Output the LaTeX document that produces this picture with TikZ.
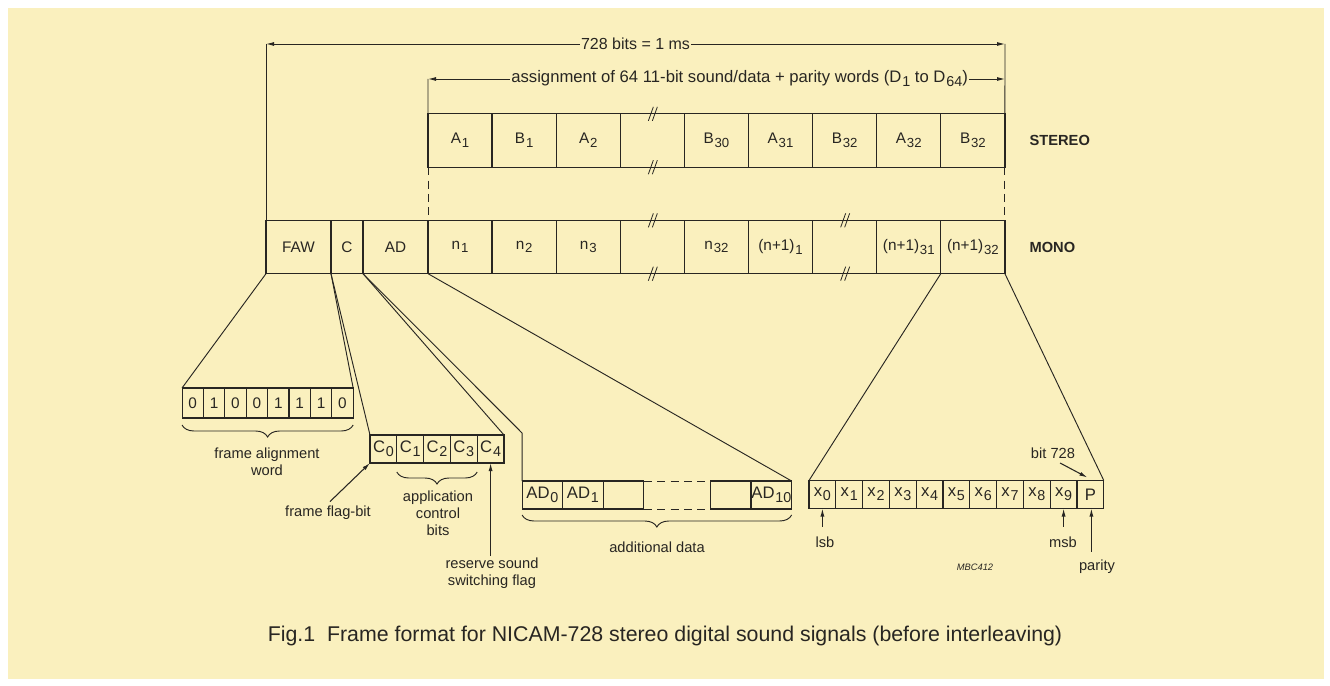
\documentclass[tikz,border=0pt]{standalone}
\usepackage{fontspec}
\setmainfont{Liberation Sans}
\usetikzlibrary{arrows.meta,calc,decorations.pathreplacing}
\definecolor{paper}{RGB}{250,240,190}
\definecolor{ink}{RGB}{40,38,34}
\newcommand{\idx}[1]{\kern0.6pt\raisebox{-0.45ex}{\scalebox{0.86}{#1}}}

\begin{document}
\begin{tikzpicture}[x=0.75pt, y=-0.75pt,
      word/.style={draw=ink, line width=0.9pt, minimum width=48.1pt, minimum height=40pt,
                   inner sep=0pt, outer sep=0pt, text=ink, font=\fontsize{11.5}{12}\selectfont},
      bit/.style={draw=ink, line width=0.8pt, minimum width=20.1pt, minimum height=21pt,
                  inner sep=0pt, outer sep=0pt, text=ink, font=\fontsize{12.5}{13}\selectfont},
      lbl/.style={text=ink, font=\fontsize{11}{12.75}\selectfont, align=center, inner sep=1pt},
      fan/.style={draw=ink, line width=0.7pt},
      dashline/.style={draw=ink, line width=0.7pt, dash pattern=on 6pt off 4pt},
      dim/.style={draw=ink, line width=0.7pt, {Latex[length=6pt,width=3pt]}-{Latex[length=6pt,width=3pt]}},
      tick/.style={draw=ink, line width=0.8pt, -{Latex[length=6pt,width=3pt]}},
      brace/.style={draw=ink, line width=0.7pt, decorate, decoration={brace, mirror, amplitude=9pt}},
      brk/.pic={\draw[ink, line width=0.6pt] (-4,7) -- (1,-7) (0,7) -- (5,-7);}
    ]
      \useasboundingbox (0,0) rectangle (1330,685);
      \fill[white] (0,0) rectangle (1330,685);
      \fill[paper] (8,8) rectangle (1324,679);

      % Stereo
      \foreach \lab [count=\i] in {A\idx{1}, B\idx{1}, A\idx{2}, {}, B\idx{30}, A\idx{31}, B\idx{32}, A\idx{32}, B\idx{32}}
        \node[word] (s\i) at ({428+64.1*(\i-0.5)},140.5) {\lab};
      \node[lbl, anchor=west, font=\fontsize{11}{12}\selectfont\bfseries] (stereo) at (1028,140.5) {STEREO};

      % Mono
      \node[word, minimum width=48.75pt] (faw) at (298.5,247) {FAW};
      \node[word, minimum width=24pt] (c) at (347,247) {C};
      \node[word, minimum width=48.75pt] (ad) at (395.5,247) {AD};
      \foreach \lab [count=\i] in {n\idx{1}, n\idx{2}, n\idx{3}, {}, n\idx{32}, (n+1)\idx{1}, {}, (n+1)\idx{31}, (n+1)\idx{32}}
        \node[word] (m\i) at ({428+64.1*(\i-0.5)},247) {\lab};
      \node[lbl, anchor=west, font=\fontsize{11}{12}\selectfont\bfseries] (mono) at (1028,247) {MONO};

      % Breaks
      \foreach \p in {s4.north, s4.south, m4.north, m4.south, m7.north, m7.south}
        \pic at (\p) {brk};

      % Dimensions
      \coordinate (t1) at (266,44);
      \coordinate (t2) at (1005,44);
      \coordinate (u1) at (428,79);
      \coordinate (u2) at (1005,79);
      \draw[dim] (t1) -- node[lbl, fill=paper, font=\fontsize{12}{13}\selectfont] {728 bits = 1 ms} (t2);
      \draw[dim] (u1) -- node[lbl, fill=paper, pos=0.54, font=\fontsize{12.5}{13}\selectfont] {assignment of 64 11-bit sound/data + parity words (D\idx{1} to D\idx{64})} (u2);
      \draw[fan] (t1) -- (faw.north west);
      \draw[fan] (t2) -- (s9.north east);
      \draw[fan] (u1) -- (s1.north west);
      \draw[dashline] (s1.south west) -- (m1.north west);
      \draw[dashline] (s9.south east) -- (m9.north east);

      % Frame alignment word
      \foreach \b [count=\i] in {0,1,0,0,1,1,1,0}
        \node[bit, minimum width=16pt, minimum height=22.5pt, font=\fontsize{11.5}{12}\selectfont] (f\i) at ({182+21.4*(\i-0.5)},403) {\b};
      \draw[brace] ($(f1.south west)+(0,7)$) -- ($(f8.south east)+(0,7)$);
      \node[lbl] (fawlbl) at (267,462) {frame alignment\\word};

      % Control bits
      \foreach \i in {0,...,4}
        \node[bit] (c\i) at ({370+26.8*(\i+0.5)},449) {C\idx{\i}};
      \draw[brace] ($(c1.south west)+(0,9)$) -- ($(c3.south east)+(0,9)$);
      \node[lbl] (acb) at (438,513) {application\\control\\bits};
      \node[lbl] (flg) at (328,513) {frame flag-bit};
      \node[lbl] (rsv) at (492,573) {reserve sound\\switching flag};
      \draw[tick] ($(flg.north)+(2,-3)$) -- (c0.south west);
      \draw[tick] (c4.south |- rsv.north) -- (c4.south);

      % Additional data
      \node[bit, minimum width=30.4pt] (ad0) at (542.35,495) {AD\idx{0}};
      \node[bit, minimum width=30.4pt] (ad1) at (582.85,495) {AD\idx{1}};
      \node[bit, minimum width=30.4pt] (ade1) at (623.5,495) {};
      \node[minimum width=49.5pt, minimum height=21pt, inner sep=0pt, outer sep=0pt] (adg) at (677,495) {};
      \node[bit, minimum width=30.4pt] (ade2) at (730.35,495) {};
      \node[bit, minimum width=30.4pt] (ad10) at (771.35,495) {AD\idx{10}};
      \draw[dashline] (adg.north west) -- (adg.north east);
      \draw[dashline] (adg.south west) -- (adg.south east);
      \draw[brace] ($(ad0.south west)+(0,6)$) -- ($(ad10.south east)+(0,6)$);
      \node[lbl] (adlbl) at (657,547) {additional data};

      % Sound word
      \foreach \i in {0,...,9}
        \node[bit] (x\i) at ({809+26.8*(\i+0.5)},494.5) {x\idx{\i}};
      \node[bit] (par) at ({809+26.8*10.5},494.5) {P};
      \node[lbl] (lsb) at (825,542) {lsb};
      \node[lbl] (msb) at (1063,542) {msb};
      \node[lbl] (parity) at (1097,567) {parity};
      \node[lbl] (b728) at (1053,453) {bit 728};
      \draw[tick] ($(x0.south)+(0,18)$) -- (x0.south);
      \draw[tick] ($(x9.south)+(0,18)$) -- (x9.south);
      \draw[tick] ($(par.south)+(1,43)$) -- ($(par.south)+(1,0)$);
      \draw[tick] ($(b728.south)+(7,3)$) -- ($(par.north)+(-3,-3)$);
      \node[lbl, font=\fontsize{7}{8}\selectfont\itshape] (code) at (975,567) {MBC412};

      % Expansion
      \draw[fan] (faw.south west) -- (f1.north west);
      \draw[fan] (faw.south east) -- (f8.north east);
      \draw[fan] (c.south west) -- (c0.north west);
      \draw[fan] (c.south east) -- (c4.north east);
      \draw[fan] (ad.south west) -- ($(ad0.north west)+(0,-48)$) -- (ad0.north west);
      \draw[fan] (ad.south east) -- (ad10.north east);
      \draw[fan] (m9.south west) -- (x0.north west);
      \draw[fan] (m9.south east) -- (par.north east);

      % Caption
      \node[lbl, font=\fontsize{16}{18}\selectfont] (cap) at (665,636) {Fig.1\ \ Frame format for NICAM-728 stereo digital sound signals (before interleaving)};
    \end{tikzpicture}
\end{document}
